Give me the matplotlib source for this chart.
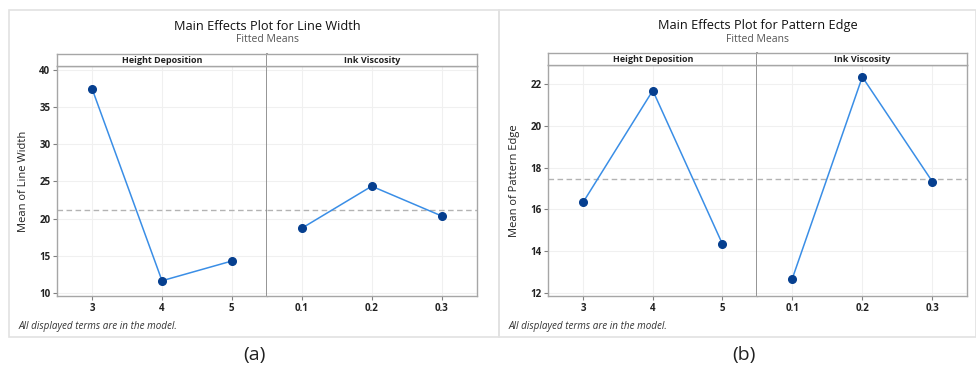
import matplotlib
matplotlib.use("Agg")
import matplotlib.pyplot as plt
from matplotlib.patches import Rectangle

plt.rcParams['font.family'] = ['Open Sans', 'DejaVu Sans']

# ---- data ----
factors = ["Height Deposition", "Ink Viscosity"]
height_levels = ["3", "4", "5"]
visc_levels = ["0.1", "0.2", "0.3"]

lw_height = [37.4, 11.65, 14.3]
lw_visc = [18.7, 24.35, 20.35]
lw_mean = 21.12
lw_yticks = [10, 15, 20, 25, 30, 35, 40]
lw_ylim = (9.6, 40.5)

pe_height = [16.34, 21.68, 14.34]
pe_visc = [12.69, 22.33, 17.33]
pe_mean = 17.46
pe_yticks = [12, 14, 16, 18, 20, 22]
pe_ylim = (11.86, 22.9)

W, H = 976, 367
fig = plt.figure(figsize=(W / 100, H / 100), dpi=100)

LINE_C = "#3a8ee6"
MARK_C = "#063f8f"
SPINE_C = "#a6a6a6"
GRID_C = "#f0f0f0"


def px_axes(x0, y0, x1, y1):
    return fig.add_axes([x0 / W, 1 - y1 / H, (x1 - x0) / W, (y1 - y0) / H])


def panel(xl, xm, xr, top, strip_bot, bot, series, levels_list, mean, yticks, ylim,
          title, ylabel, frame, label, label_x):
    fx0, fy0, fx1, fy1 = frame
    fig.patches.append(Rectangle((fx0 / W, 1 - fy1 / H), (fx1 - fx0) / W, (fy1 - fy0) / H,
                                 transform=fig.transFigure, fill=False,
                                 edgecolor="#e2e2e2", lw=1.2))
    xs = [(xl, xm), (xm, xr)]
    for i, ((a, b), vals, levs, fac) in enumerate(zip(xs, series, levels_list, factors)):
        ax = px_axes(a, strip_bot, b, bot)
        idx = list(range(len(levs)))
        ax.plot(idx, vals, color=LINE_C, lw=1.1, zorder=3)
        ax.plot(idx, vals, 'o', color=MARK_C, ms=5.5, zorder=4)
        ax.axhline(mean, color="#b3b3b3", lw=1.0, ls=(0, (4, 2.5)), zorder=2)
        ax.set_xlim(-0.5, len(levs) - 0.5)
        ax.set_ylim(*ylim)
        ax.set_xticks(idx)
        ax.set_xticklabels(levs, fontsize=7, fontweight='bold', color="#222222")
        ax.set_yticks(yticks)
        ax.grid(True, color=GRID_C, lw=0.8, zorder=0)
        ax.tick_params(axis='both', length=3, width=0.8, color="#808080", pad=2)
        for s in ax.spines.values():
            s.set_color(SPINE_C)
            s.set_linewidth(1.0)
        if i == 0:
            ax.set_yticklabels([str(t) for t in yticks], fontsize=7, fontweight='bold', color="#222222")
            ax.spines['right'].set_color("#8c8c8c")
            ax.spines['right'].set_linewidth(1.3)
            ax.set_ylabel(ylabel, fontsize=8, color="#222222", labelpad=7)
        else:
            ax.tick_params(axis='y', left=False, labelleft=False)
            ax.spines['left'].set_visible(False)
        sx = px_axes(a, top, b, strip_bot)
        sx.set_xticks([])
        sx.set_yticks([])
        for s in sx.spines.values():
            s.set_color(SPINE_C)
            s.set_linewidth(1.0)
        if i == 0:
            sx.spines['right'].set_color("#8c8c8c")
            sx.spines['right'].set_linewidth(1.3)
        else:
            sx.spines['left'].set_visible(False)
        sx.text(0.5, 0.45, fac, transform=sx.transAxes, ha='center', va='center',
                fontsize=6.5, fontweight='bold', color="#222222")
    cx = (xl + xr) / 2
    fig.text(cx / W, 1 - 26 / H, title, ha='center', va='center', fontsize=9.2,
             color="#111111")
    fig.text(cx / W, 1 - 40 / H, "Fitted Means", ha='center', va='center', fontsize=7.5,
             color="#555555")
    fig.text((fx0 + 10) / W, 1 - 327 / H, "All displayed terms are in the model.",
             ha='left', va='center', fontsize=7.1, style='italic', color="#333333")
    fig.text(label_x / W, 1 - 355 / H, label, ha='center', va='center', fontsize=14,
             color="#222222")


panel(57.3, 266.7, 476.7, 54.3, 66, 296,
      [lw_height, lw_visc], [height_levels, visc_levels], lw_mean, lw_yticks, lw_ylim,
      "Main Effects Plot for Line Width", "Mean of Line Width",
      (9, 9.5, 499, 336.5), "(a)", 254)

panel(548.3, 757.3, 967.3, 53.3, 65, 296,
      [pe_height, pe_visc], [height_levels, visc_levels], pe_mean, pe_yticks, pe_ylim,
      "Main Effects Plot for Pattern Edge", "Mean of Pattern Edge",
      (499, 9.5, 976, 336.5), "(b)", 744)

fig.savefig("out.png", dpi=100, facecolor="white")
